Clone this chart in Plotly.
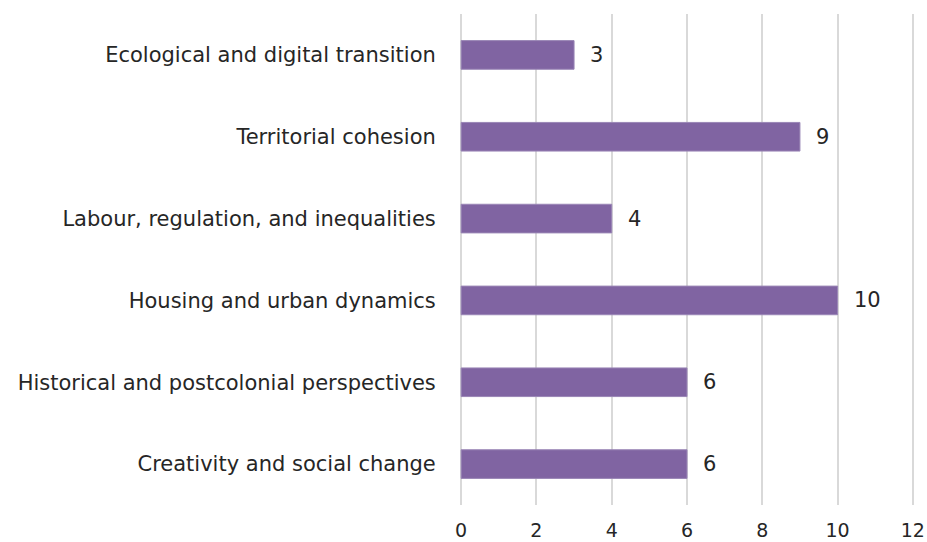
import plotly.graph_objects as go

categories = [
    "Ecological and digital transition",
    "Territorial cohesion",
    "Labour, regulation, and inequalities",
    "Housing and urban dynamics",
    "Historical and postcolonial perspectives",
    "Creativity and social change",
]
values = [3, 9, 4, 10, 6, 6]
tick_vals = [0, 2, 4, 6, 8, 10, 12]

FONT = "DejaVu Sans"
SIZE = 21
TXT = "#262626"
fig = go.Figure(go.Bar(
    y=categories, x=values, orientation="h",
    marker=dict(color="#8064A2", line=dict(color="#9a86b6", width=1)),
    width=0.35,
))
for c, v in zip(categories, values):
    fig.add_annotation(x=v, y=c, text=str(v), showarrow=False,
                       xanchor="left", xshift=14,
                       font=dict(family=FONT, size=SIZE, color=TXT))
fig.update_layout(
    width=927, height=542,
    margin=dict(l=460, r=13, t=14, b=37),
    paper_bgcolor="white", plot_bgcolor="white",
    showlegend=False,
    font=dict(family=FONT, size=SIZE, color=TXT),
    xaxis=dict(range=[-0.03, 12.03], tickvals=tick_vals, showgrid=True,
               gridcolor="#d9d9d9", gridwidth=2, zeroline=False,
               tickfont=dict(size=19),
               ticks="outside", ticklen=8, tickcolor="rgba(0,0,0,0)",
               showline=False, fixedrange=True, automargin=False),
    yaxis=dict(autorange="reversed", showgrid=False, ticks="outside",
               ticklen=19, tickcolor="rgba(0,0,0,0)", showline=False,
               automargin=False, fixedrange=True),
)
fig.write_html("out.html", config={"displayModeBar": False},
               post_script="document.body.style.margin='0';document.body.style.overflow='hidden';")
